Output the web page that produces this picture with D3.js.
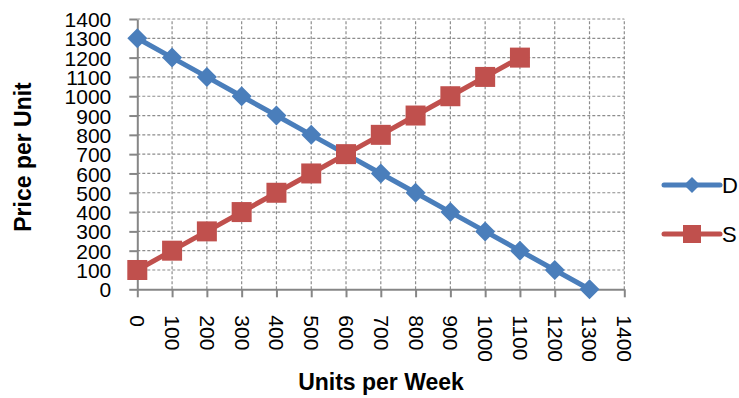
<!DOCTYPE html>
<html><head><meta charset="utf-8">
<script src="https://cdn.jsdelivr.net/npm/d3@7"></script>
<style>body{margin:0;background:#fff}text{font-family:"Liberation Sans",Arial,sans-serif}</style>
</head><body><svg id="c" width="739" height="398"></svg>
<script>
const demandX = [0,100,200,300,400,500,600,700,800,900,1000,1100,1200,1300];
const demandY = [1300,1200,1100,1000,900,800,700,600,500,400,300,200,100,0];
const supplyX = [0,100,200,300,400,500,600,700,800,900,1000,1100];
const supplyY = [100,200,300,400,500,600,700,800,900,1000,1100,1200];
const xTicks = [0,100,200,300,400,500,600,700,800,900,1000,1100,1200,1300,1400];
const yTicks = [0,100,200,300,400,500,600,700,800,900,1000,1100,1200,1300,1400];
const seriesNames = ["D","S"];
const colors = ["#4A7EBB","#C0504D"];

const svg = d3.select("#c");
const x = d3.scaleLinear().domain([0,1400]).range([137.3,624.3]);
const y = d3.scaleLinear().domain([0,1400]).range([289.3,19]);
const grid = "#8c8c8c";
const fmt = d3.format("d");

// grid
svg.append("g").selectAll("line").data(yTicks.filter(d=>d>0)).join("line")
  .attr("x1",x(0)).attr("x2",x(1400)).attr("y1",d=>y(d)).attr("y2",d=>y(d))
  .attr("stroke",grid).attr("stroke-width",1.2).attr("stroke-dasharray","3,2");
svg.append("g").selectAll("line").data(xTicks.filter(d=>d>0)).join("line")
  .attr("y1",y(0)).attr("y2",y(1400)).attr("x1",d=>x(d)).attr("x2",d=>x(d))
  .attr("stroke",grid).attr("stroke-width",1.2).attr("stroke-dasharray","3,2");

// axes
const yAxis = svg.append("g").attr("transform",`translate(${x(0)},0)`)
  .call(d3.axisLeft(y).tickValues(yTicks).tickFormat(fmt).tickSize(8).tickSizeOuter(0));
const xAxis = svg.append("g").attr("transform",`translate(0,${y(0)})`)
  .call(d3.axisBottom(x).tickValues(xTicks).tickFormat(fmt).tickSize(8).tickSizeOuter(0));
[xAxis,yAxis].forEach(a=>{
  a.select(".domain").attr("stroke","#868686").attr("stroke-width",2);
  a.selectAll(".tick line").attr("stroke","#868686").attr("stroke-width",2);
  a.selectAll("text").attr("fill","#000").style("font-size","21px").style("font-family","Liberation Sans, Arial, sans-serif");
});
yAxis.selectAll("text").attr("dy","0.36em").attr("x",-26);
xAxis.selectAll("text").attr("transform","rotate(90)").attr("x",26).attr("y",0)
  .attr("dy","0.36em").attr("text-anchor","start");

// lines
const line = d3.line().x(d=>x(d[0])).y(d=>y(d[1]));
const dData = demandX.map((v,i)=>[v,demandY[i]]);
const sData = supplyX.map((v,i)=>[v,supplyY[i]]);
svg.append("path").datum(dData).attr("d",line).attr("fill","none").attr("stroke",colors[0]).attr("stroke-width",5).attr("stroke-linejoin","round");
svg.append("path").datum(sData).attr("d",line).attr("fill","none").attr("stroke",colors[1]).attr("stroke-width",5).attr("stroke-linejoin","round");
const diamond = "M0,-10L10,0L0,10L-10,0Z";
svg.append("g").selectAll("path").data(dData).join("path")
  .attr("d",diamond).attr("transform",d=>`translate(${x(d[0])},${y(d[1])})`).attr("fill",colors[0]);
svg.append("g").selectAll("rect").data(sData).join("rect")
  .attr("x",d=>x(d[0])-10).attr("y",d=>y(d[1])-10).attr("width",20).attr("height",20).attr("fill",colors[1]);

// axis titles
svg.append("text").attr("x",381).attr("y",390).attr("text-anchor","middle")
  .style("font-weight","bold").style("font-size","23px").text("Units per Week");
svg.append("text").attr("transform","translate(31,157) rotate(-90)").attr("text-anchor","middle")
  .style("font-weight","bold").style("font-size","23px").text("Price per Unit");

// legend
const lg = svg.append("g");
[185,234].forEach((ly,i)=>{
  lg.append("line").attr("x1",664).attr("x2",720).attr("y1",ly).attr("y2",ly)
    .attr("stroke",colors[i]).attr("stroke-width",5).attr("stroke-linecap","round");
  if(i===0) lg.append("path").attr("d","M0,-8L8,0L0,8L-8,0Z").attr("transform",`translate(692,${ly})`).attr("fill",colors[0]);
  else lg.append("rect").attr("x",683).attr("y",ly-9).attr("width",18).attr("height",18).attr("fill",colors[1]);
  lg.append("text").attr("x",722).attr("y",ly).attr("dy","0.36em").style("font-size","22px").text(seriesNames[i]);
});
</script></body></html>
